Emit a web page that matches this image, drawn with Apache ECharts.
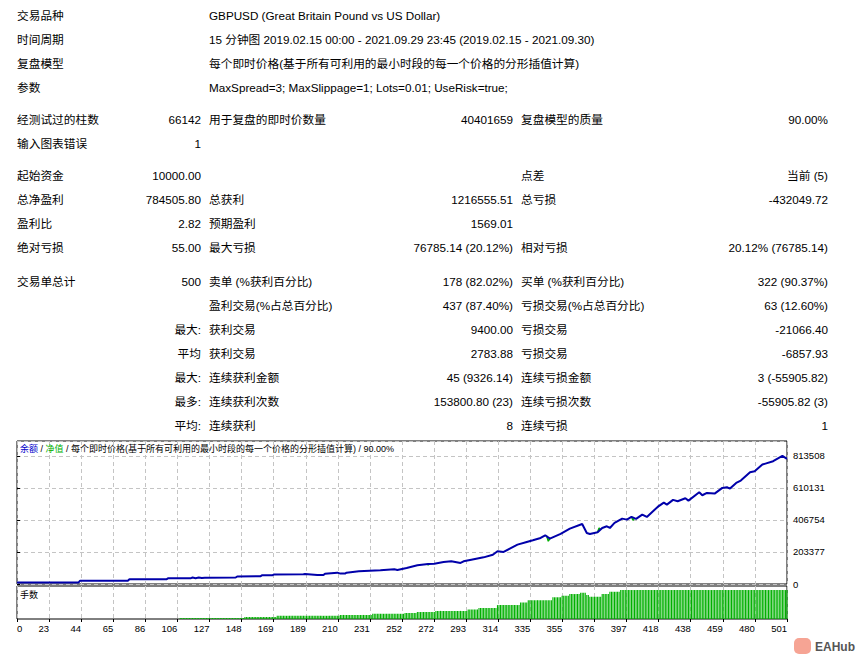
<!DOCTYPE html>
<html>
<head>
<meta charset="utf-8">
<script src="https://cdn.jsdelivr.net/npm/echarts@6.0.0/dist/echarts.min.js"></script>
<style>
html, body { margin: 0; padding: 0; background: #fff; }
#main { width: 863px; height: 660px; }
</style>
</head>
<body>
<div id="main"></div>
<script>
// report header
var headerLabels = ['交易品种', '时间周期', '复盘模型', '参数'];
var headerValues = [
    'GBPUSD (Great Britain Pound vs US Dollar)',
    '15 分钟图 2019.02.15 00:00 - 2021.09.29 23:45 (2019.02.15 - 2021.09.30)',
    '每个即时价格(基于所有可利用的最小时段的每一个价格的分形插值计算)',
    'MaxSpread=3; MaxSlippage=1; Lots=0.01; UseRisk=true;'
];

// report stats, one entry per row
var statLabelA = ['经测试过的柱数', '输入图表错误', '起始资金', '总净盈利', '盈利比', '绝对亏损', '交易单总计', '', '', '', '', '', ''];
var statValueB = ['66142', '1', '10000.00', '784505.80', '2.82', '55.00', '500', '', '最大:', '平均', '最大:', '最多:', '平均:'];
var statLabelC = ['用于复盘的即时价数量', '', '', '总获利', '预期盈利', '最大亏损', '卖单 (%获利百分比)', '盈利交易(%占总百分比)', '获利交易', '获利交易', '连续获利金额', '连续获利次数', '连续获利'];
var statValueD = ['40401659', '', '', '1216555.51', '1569.01', '76785.14 (20.12%)', '178 (82.02%)', '437 (87.40%)', '9400.00', '2783.88', '45 (9326.14)', '153800.80 (23)', '8'];
var statLabelE = ['复盘模型的质量', '', '点差', '总亏损', '', '相对亏损', '买单 (%获利百分比)', '亏损交易(%占总百分比)', '亏损交易', '亏损交易', '连续亏损金额', '连续亏损次数', '连续亏损'];
var statValueF = ['90.00%', '', '当前 (5)', '-432049.72', '', '20.12% (76785.14)', '322 (90.37%)', '63 (12.60%)', '-21066.40', '-6857.93', '3 (-55905.82)', '-55905.82 (3)', '1'];

// balance curve: trade number -> balance
var balTrade = [0, 40, 41, 72, 73, 97, 98, 113, 114, 116, 118, 120, 122, 142, 143, 158, 159, 166, 167, 186,
    187, 195, 199, 200, 208, 210, 213, 214, 222, 236, 245, 247, 253, 260, 267, 271, 277, 282, 288, 290,
    295, 303, 309, 312, 316, 320, 325, 331, 335, 340, 343, 346, 353, 359, 367, 370, 372, 377, 380, 383,
    385, 388, 393, 396, 399, 402, 406, 409, 416, 420, 422, 426, 429, 434, 436, 443, 445, 448, 453, 458,
    461, 463, 467, 470, 476, 479, 484, 486, 491, 497, 500];
var balValue = [10000, 10000, 21000, 21000, 30000, 30000, 36000, 37000, 41000, 37000, 41000, 38000, 40000, 41000, 48000, 49000, 55000, 56000, 61000, 62000,
    63500, 57200, 57200, 65600, 72000, 66000, 66000, 72000, 80500, 87000, 93400, 89000, 101700, 118600, 127100, 129000, 139800, 144000, 133500, 144000,
    154400, 169300, 186000, 207600, 203400, 224600, 250000, 267000, 277800, 292300, 309300, 288100, 317800, 351600, 381300, 324100, 317800, 328400, 355900, 366400,
    355900, 387700, 415200, 408800, 425800, 413100, 440600, 425800, 489300, 517000, 504000, 534300, 525500, 544600, 529300, 582600, 563500, 578300, 573900, 610100,
    614300, 605800, 641900, 656500, 709700, 716100, 758400, 764500, 779800, 813508, 794506];

// equity where it shows apart from balance ('-' breaks the line)
var eqTrade = [266, 267, 268, 268, 344, 345, 346, 346, 377, 378, 379, 379, 399, 400, 401];
var eqValue = [127100, 121000, 128000, '-', 305000, 272000, 288100, '-', 328400, 356000, 345000, '-', 425800, 405000, 418000];

// lots per trade, read as runs of equal bars
var lotFrom = [106, 148, 169, 210, 231, 252, 260, 272, 293, 300, 312, 327, 332, 348, 354, 359, 366, 370, 372, 380, 385, 392];
var lotTo   = [147, 168, 209, 230, 251, 259, 271, 292, 299, 311, 326, 331, 347, 353, 358, 365, 369, 371, 379, 384, 391, 500];
var lotSize = [3.4, 6.9, 11, 14, 18, 21, 24, 28, 33, 38, 48, 57, 65, 75, 80, 86, 91, 83, 77, 86, 94, 100];

var xLabels = ['0', '23', '44', '65', '86', '106', '127', '148', '169', '189', '210', '231', '252', '272',
    '293', '314', '335', '355', '376', '397', '418', '438', '459', '480', '501'];
var yTickStep = 203377;

var dom = document.getElementById('main');
var myChart = echarts.init(dom, null, { renderer: 'svg' });

var tableFont = '"Liberation Sans", "Noto Sans CJK SC", sans-serif';
var chartFont = '"Liberation Sans", "Noto Sans CJK SC", sans-serif';

var txt = function (x, y, s, align, size, color) {
    return {
        type: 'text', x: x, y: y, silent: true,
        style: {
            text: s, fill: color || '#000', fontFamily: tableFont, fontSize: size || 11.7,
            align: align, verticalAlign: 'middle'
        }
    };
};

var getOption = function () {
    var g = [];
    var i;
    for (i = 0; i < headerLabels.length; i++) {
        g.push(txt(17, 15 + i * 24, headerLabels[i], 'left'));
        g.push(txt(209, 15 + i * 24, headerValues[i], 'left'));
    }
    var rowY = [119, 143, 175, 199, 223, 247, 281, 305, 329, 353, 377, 401, 425];
    for (i = 0; i < rowY.length; i++) {
        var y = rowY[i];
        if (statLabelA[i]) g.push(txt(17, y, statLabelA[i], 'left'));
        if (statValueB[i]) g.push(txt(201, y, statValueB[i], 'right'));
        if (statLabelC[i]) g.push(txt(209, y, statLabelC[i], 'left'));
        if (statValueD[i]) g.push(txt(513, y, statValueD[i], 'right'));
        if (statLabelE[i]) g.push(txt(521, y, statLabelE[i], 'left'));
        if (statValueF[i]) g.push(txt(828, y, statValueF[i], 'right'));
    }
    // chart caption
    g.push({
        type: 'text', x: 20, y: 449, silent: true, z: 10,
        style: {
            text: '{b|余额} / {g|净值} / 每个即时价格(基于所有可利用的最小时段的每一个价格的分形插值计算) / 90.00%',
            fill: '#000', fontFamily: chartFont, fontSize: 9, verticalAlign: 'middle',
            rich: {
                b: { fill: '#0000cc', fontFamily: chartFont, fontSize: 9 },
                g: { fill: '#00b000', fontFamily: chartFont, fontSize: 9 }
            }
        }
    });
    g.push(txt(20, 595, '手数', 'left', 9));
    // watermark
    g.push({
        type: 'rect', silent: true,
        shape: { x: 794, y: 638, width: 17, height: 16, r: 5 },
        style: { fill: '#f6a494' }
    });
    g.push({
        type: 'text', x: 815, y: 647, silent: true,
        style: { text: 'EAHub', fill: '#555', fontFamily: tableFont, fontSize: 12, fontWeight: 'bold', verticalAlign: 'middle' }
    });

    var balData = [];
    for (i = 0; i < balTrade.length; i++) balData.push([balTrade[i], balValue[i]]);
    var eqData = [];
    for (i = 0; i < eqTrade.length; i++) eqData.push([eqTrade[i], eqValue[i]]);
    var lotData = [];
    for (i = 0; i < lotFrom.length; i++) {
        for (var t = lotFrom[i]; t <= lotTo[i]; t++) lotData.push([t, lotSize[i]]);
    }

    var xStep = 500 / 24;
    var dashed = { show: true, lineStyle: { color: '#c4c4c4', type: [4, 3], width: 1 } };

    return {
        animation: false,
        textStyle: { fontFamily: chartFont },
        graphic: g,
        grid: [
            { left: 17, top: 441, width: 770, height: 143, show: true, borderColor: '#000', borderWidth: 1, backgroundColor: 'transparent' },
            { left: 17, top: 586, width: 770, height: 33, show: true, borderColor: '#000', borderWidth: 1, backgroundColor: 'transparent' }
        ],
        xAxis: [
            {
                type: 'value', gridIndex: 0, min: 0, max: 500, interval: xStep,
                axisLine: { show: false }, axisTick: { show: false }, axisLabel: { show: false },
                splitLine: dashed
            },
            {
                type: 'value', gridIndex: 1, min: 0, max: 500, interval: xStep,
                axisLine: { show: false },
                axisTick: { show: true, length: 3, lineStyle: { color: '#000' } },
                axisLabel: {
                    show: true, margin: 5, color: '#000', fontSize: 9.5, fontFamily: chartFont,
                    align: 'right', alignMinLabel: 'left',
                    formatter: function (v) {
                        var k = Math.round(v / xStep);
                        return xLabels[k] !== undefined ? xLabels[k] : '';
                    }
                },
                splitLine: dashed
            }
        ],
        yAxis: [
            {
                type: 'value', gridIndex: 0, position: 'right', min: 0, max: 908000, interval: yTickStep,
                axisLine: { show: false },
                axisTick: { show: true, length: 3, lineStyle: { color: '#000' } },
                axisLabel: {
                    show: true, margin: 6, color: '#000', fontSize: 9.5, fontFamily: chartFont, showMaxLabel: false,
                    formatter: function (v) { return String(Math.round(v)); }
                },
                splitLine: dashed
            },
            {
                type: 'value', gridIndex: 1, min: 0, max: 114,
                axisLine: { show: false }, axisTick: { show: false }, axisLabel: { show: false },
                splitLine: { show: false }
            }
        ],
        series: [
            {
                name: '净值', type: 'line', xAxisIndex: 0, yAxisIndex: 0, data: eqData,
                symbol: 'none', connectNulls: false, z: 2,
                lineStyle: { color: '#00b000', width: 1.5 }
            },
            {
                name: '余额', type: 'line', xAxisIndex: 0, yAxisIndex: 0, data: balData,
                symbol: 'none', z: 3,
                lineStyle: { color: '#0000aa', width: 2 }
            },
            {
                name: '手数', type: 'bar', xAxisIndex: 1, yAxisIndex: 1, data: lotData,
                barWidth: 1.1, itemStyle: { color: '#00b000' }
            }
        ]
    };
};

myChart.setOption(getOption(), true);
</script>
</body>
</html>
